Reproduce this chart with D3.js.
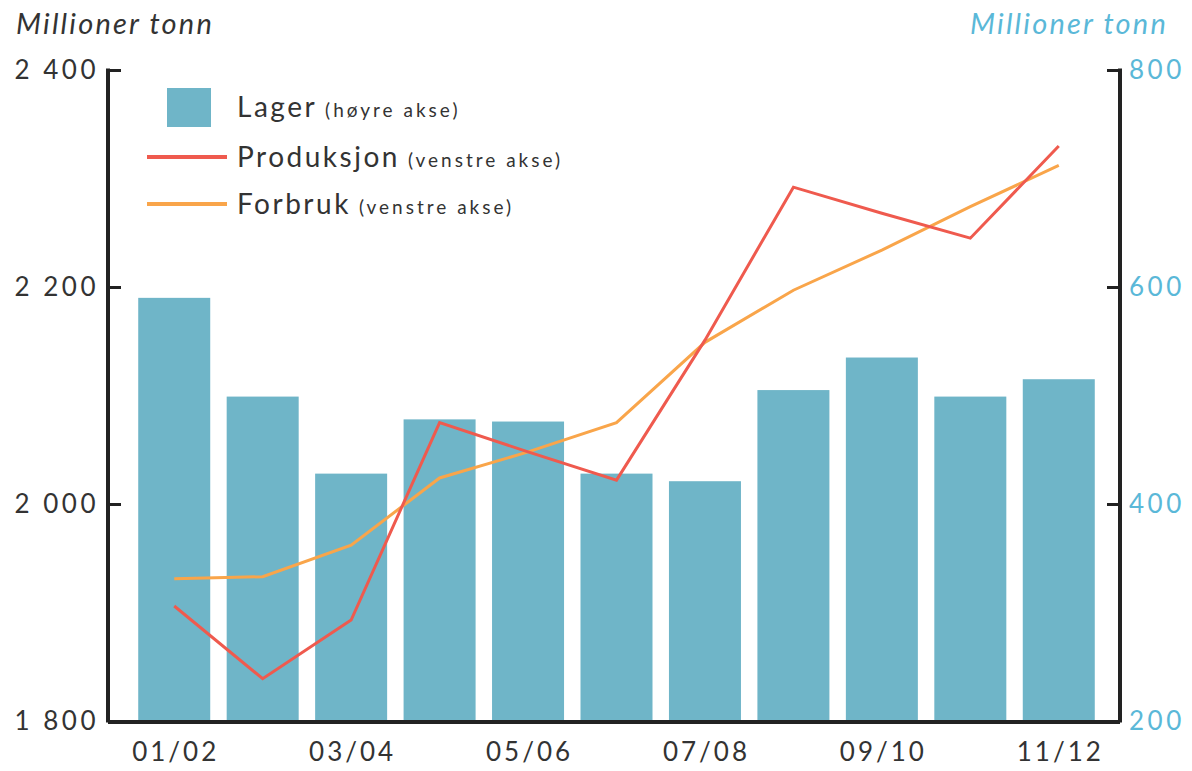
<!DOCTYPE html>
<html>
<head>
<meta charset="utf-8">
<script src="https://cdn.jsdelivr.net/npm/d3@7"></script>
<style>
  body { margin: 0; background: #fff; }
  text { font-family: Lato, "Open Sans", sans-serif; }
</style>
</head>
<body>
<script>
const width = 1192;
const height = 771;

// data
const sesonger = ["01/02", "02/03", "03/04", "04/05", "05/06", "06/07", "07/08", "08/09", "09/10", "10/11", "11/12"];
const lager = [590, 499, 428, 478, 476, 428, 421, 505, 535, 499, 515];
const produksjon = [1906, 1839, 1893, 2075, 2048, 2022, 2151, 2292, 2268, 2245, 2330];
const forbruk = [1931, 1933, 1962, 2024, 2048, 2075, 2149, 2197, 2234, 2274, 2312];
const venstreTicks = [1800, 2000, 2200, 2400];
const hoyreTicks = [200, 400, 600, 800];
const xLabels = ["01/02", "03/04", "05/06", "07/08", "09/10", "11/12"];

const farger = { lager: "#6fb5c8", produksjon: "#ef5a4e", forbruk: "#f9a54a", akse: "#222", bla: "#5ab8d8" };

const venstre = 108;
const hoyre = 1120;
const topp = 70;
const bunn = 721;

const svg = d3.select("body").append("svg").attr("width", width).attr("height", height);

const x = d3.scaleBand().domain(sesonger).range([130, 1103]).paddingInner(0.186).paddingOuter(0.093);
const yV = d3.scaleLinear().domain([1800, 2400]).range([bunn, topp]);
const yH = d3.scaleLinear().domain([200, 800]).range([bunn, topp]);

// stolper
svg.selectAll("rect.lager")
  .data(lager)
  .enter()
  .append("rect")
  .attr("class", "lager")
  .attr("x", (d, i) => x(sesonger[i]))
  .attr("y", (d) => yH(d))
  .attr("width", x.bandwidth())
  .attr("height", (d) => bunn - yH(d))
  .attr("fill", farger.lager);

// linjer
const linje = d3.line()
  .x((d, i) => x(sesonger[i]) + x.bandwidth() / 2)
  .y((d) => yV(d));

svg.append("path").datum(forbruk).attr("d", linje)
  .attr("fill", "none").attr("stroke", farger.forbruk).attr("stroke-width", 3);
svg.append("path").datum(produksjon).attr("d", linje)
  .attr("fill", "none").attr("stroke", farger.produksjon).attr("stroke-width", 3);

// akser
const venstreAkse = svg.append("g").attr("transform", `translate(${venstre},0)`)
  .call(d3.axisRight(yV).tickValues(venstreTicks).tickSize(13).tickFormat(""));
const hoyreAkse = svg.append("g").attr("transform", `translate(${hoyre},0)`)
  .call(d3.axisLeft(yH).tickValues(hoyreTicks).tickSize(13).tickFormat(""));
[venstreAkse, hoyreAkse].forEach((g) => {
  g.select(".domain").remove();
  g.selectAll(".tick line").attr("stroke", farger.akse).attr("stroke-width", 3);
});

svg.append("line").attr("x1", venstre).attr("x2", venstre).attr("y1", topp - 1.5).attr("y2", bunn + 1.5)
  .attr("stroke", farger.akse).attr("stroke-width", 4);
svg.append("line").attr("x1", hoyre).attr("x2", hoyre).attr("y1", topp - 1.5).attr("y2", bunn + 1.5)
  .attr("stroke", farger.akse).attr("stroke-width", 4);
svg.append("line").attr("x1", venstre).attr("x2", hoyre).attr("y1", bunn + 1).attr("y2", bunn + 1)
  .attr("stroke", farger.akse).attr("stroke-width", 4);

// tick-tekster
svg.selectAll("text.vt").data(venstreTicks).enter().append("text")
  .attr("x", 99).attr("y", (d) => yV(d) + 9)
  .attr("text-anchor", "end").attr("font-size", 26).attr("letter-spacing", 3.5).attr("fill", "#333")
  .text((d) => d3.format(",")(d).replace(",", " "));

svg.selectAll("text.ht").data(hoyreTicks).enter().append("text")
  .attr("x", 1129).attr("y", (d) => yH(d) + 9)
  .attr("font-size", 26).attr("letter-spacing", 3.5).attr("fill", farger.bla)
  .text((d) => d);

svg.selectAll("text.xt").data(xLabels).enter().append("text")
  .attr("x", (d) => x(d) + x.bandwidth() / 2 + 1.5).attr("y", 761)
  .attr("text-anchor", "middle").attr("font-size", 26).attr("letter-spacing", 3).attr("fill", "#333")
  .text((d) => d);

// aksetitler
svg.append("text").attr("x", 16).attr("y", 34).attr("font-size", 29).attr("letter-spacing", 2.2)
  .attr("font-style", "italic").attr("fill", "#333").text("Millioner tonn");
svg.append("text").attr("x", 1168).attr("y", 34).attr("font-size", 29).attr("letter-spacing", 2.2)
  .attr("font-style", "italic").attr("text-anchor", "end").attr("fill", farger.bla).text("Millioner tonn");

// forklaring
const forklaring = svg.append("g");
forklaring.append("rect").attr("x", 167).attr("y", 88).attr("width", 44).attr("height", 39).attr("fill", farger.lager);
forklaring.append("line").attr("x1", 147).attr("x2", 227).attr("y1", 157).attr("y2", 157)
  .attr("stroke", farger.produksjon).attr("stroke-width", 4);
forklaring.append("line").attr("x1", 147).attr("x2", 227).attr("y1", 204).attr("y2", 204)
  .attr("stroke", farger.forbruk).attr("stroke-width", 4);

const poster = [
  { navn: "Lager", akse: "(høyre akse)", y: 117 },
  { navn: "Produksjon", akse: "(venstre akse)", y: 167 },
  { navn: "Forbruk", akse: "(venstre akse)", y: 214 }
];
poster.forEach((p) => {
  const t = forklaring.append("text").attr("x", 237).attr("y", p.y).attr("fill", "#333");
  t.append("tspan").attr("font-size", 28).attr("letter-spacing", 2.5).text(p.navn);
  t.append("tspan").attr("dx", 8).attr("font-size", 19).attr("letter-spacing", 3).text(p.akse);
});
</script>
</body>
</html>
